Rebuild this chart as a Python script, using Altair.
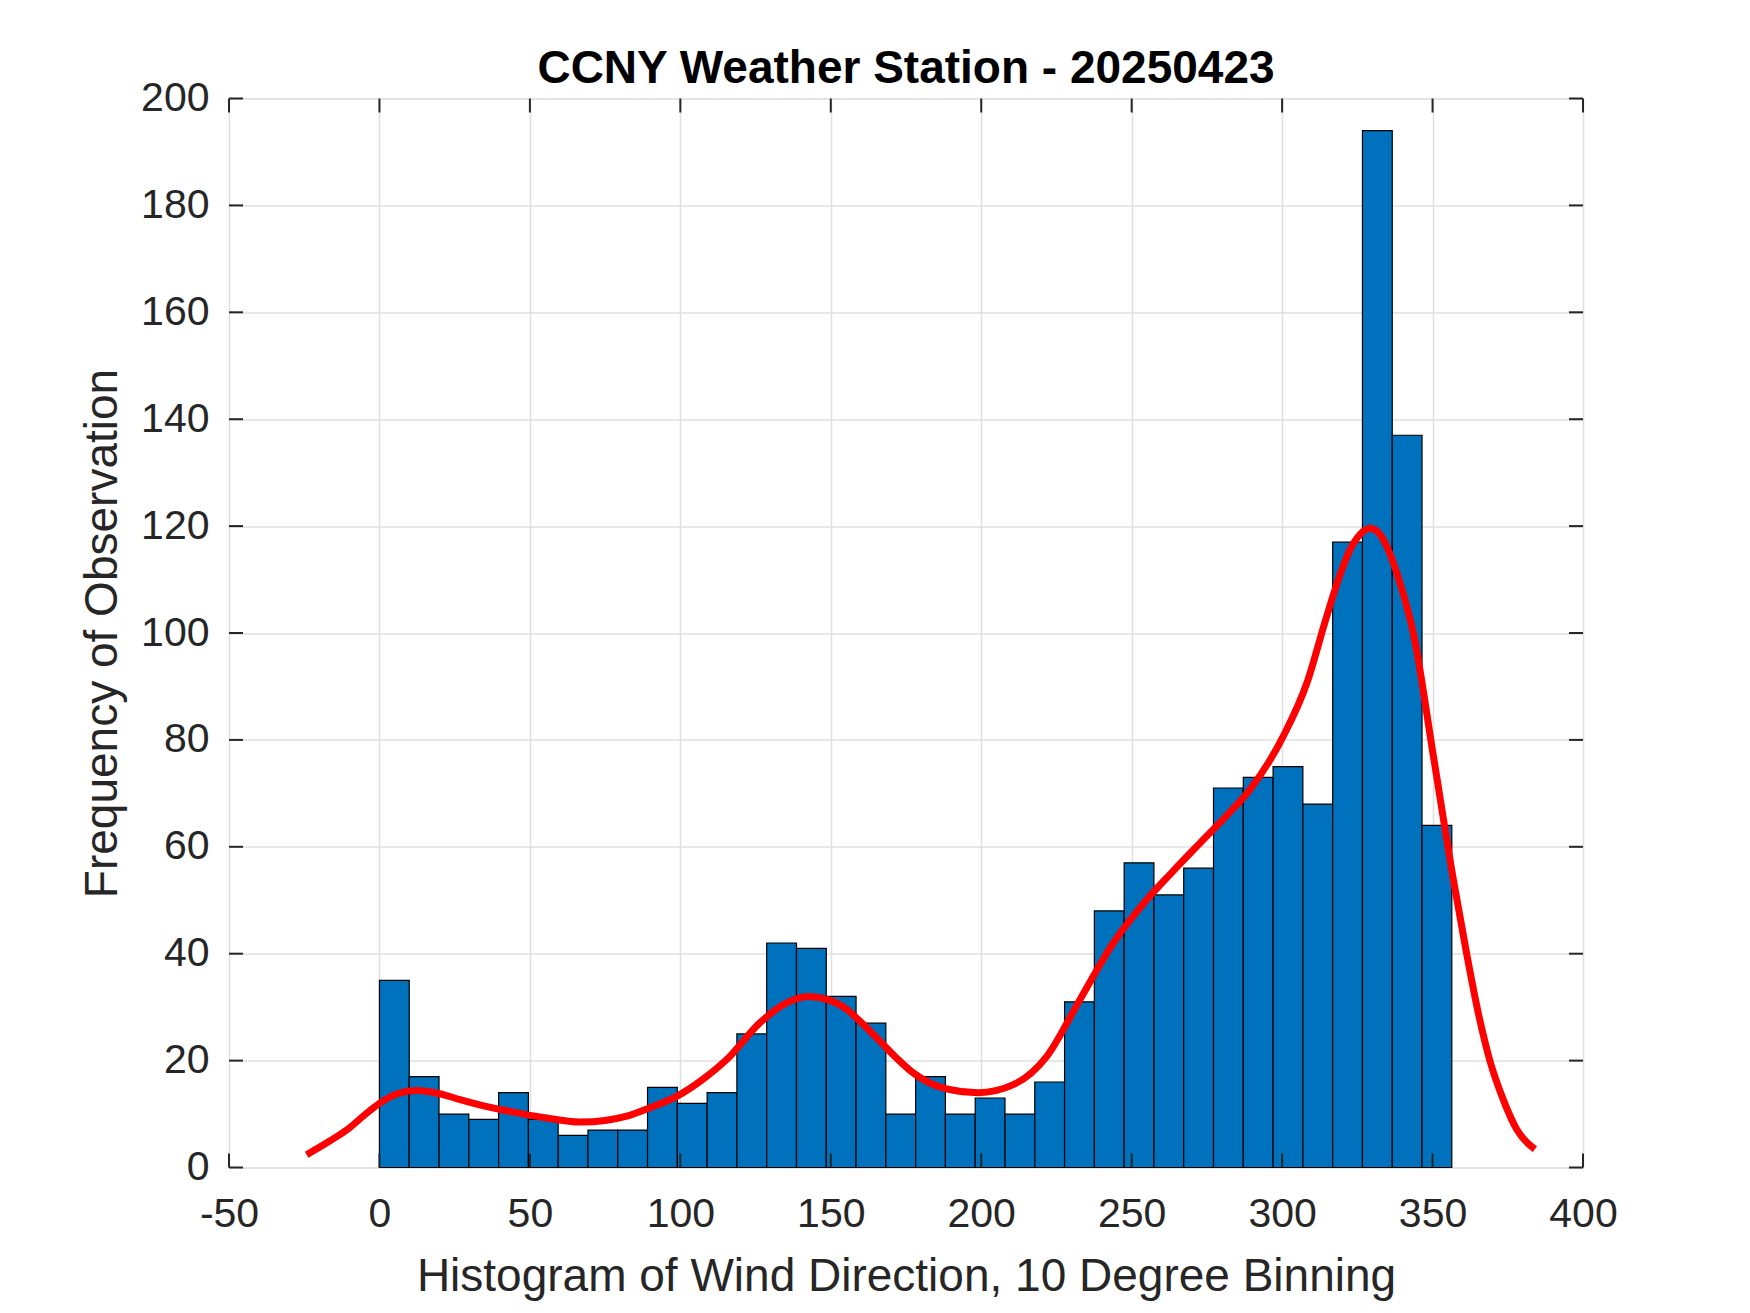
import altair as alt
import pandas as pd

# ---- data ----
bin_width = 9.9
counts = [35, 17, 10, 9, 14, 9, 6, 7, 7, 15, 12, 14, 25, 42, 41, 32, 27, 10,
          17, 10, 13, 10, 16, 31, 48, 57, 51, 56, 71, 73, 75, 68, 117, 194, 137, 64]

curve_x = [-24.2, -16.4, -10, -5, 0, 6, 12.4, 20, 26.8, 35, 43.4, 55, 66.7, 75,
           82.2, 90, 98.8, 107, 115.4, 126.5, 135, 142.3, 149, 155.3, 160, 166.4,
           172, 177.4, 188.5, 199, 210.7, 221.8, 232.8, 243.9, 255, 263, 272.7,
           281, 289.3, 300.4, 308.2, 314.8, 319, 322.6, 326, 329.2, 332, 334.8,
           339.2, 343.6, 350.3, 356.9, 361.3, 365.2, 369.1, 373.5, 378, 384]
curve_y = [2.4, 5.0, 7.4, 9.8, 12.0, 13.8, 14.4, 13.8, 12.7, 11.5, 10.5, 9.3, 8.5,
           8.8, 9.6, 11.2, 13.3, 16.3, 20.2, 27.1, 30.7, 32.0, 31.4, 29.6, 27.2,
           23.6, 20.4, 17.7, 14.7, 14.0, 15.5, 20.8, 31.4, 42.0, 50.1, 55.0, 60.7,
           65.5, 70.7, 80.7, 90.6, 103.1, 110.5, 115.6, 118.5, 119.6, 118.8,
           116.2, 109.3, 100.0, 76.9, 53.9, 40.1, 28.9, 19.9, 12.7, 7.1, 3.4]

x_ticks = [-50, 0, 50, 100, 150, 200, 250, 300, 350, 400]
y_ticks = [0, 20, 40, 60, 80, 100, 120, 140, 160, 180, 200]

title_text = "CCNY Weather Station - 20250423"
x_title = "Histogram of Wind Direction, 10 Degree Binning"
y_title = "Frequency of Observation"

# ---- tables ----
bars = pd.DataFrame({
    "x0": [i * bin_width for i in range(len(counts))],
    "x1": [(i + 1) * bin_width for i in range(len(counts))],
    "count": counts,
})
curve = pd.DataFrame({"x": curve_x, "y": curve_y})
xt = pd.DataFrame({"v": x_ticks})
yt = pd.DataFrame({"v": y_ticks})

W, H = 1354, 1069
FONT = "Liberation Sans"
AX = "#262626"
TL = 14

xscale = alt.Scale(domain=[-50, 400], nice=False, zero=False)
yscale = alt.Scale(domain=[0, 200], nice=False)

xaxis = alt.Axis(values=x_ticks, title=x_title, grid=True, gridColor="#dfdfdf",
                 gridWidth=1.5, ticks=False, tickSize=0, domain=False,
                 labelFont=FONT, labelFontSize=41, labelColor=AX,
                 labelPadding=27, labelExpr="'' + datum.value",
                 titleFont=FONT, titleFontSize=46, titleFontWeight="normal",
                 titleColor=AX, titleBaseline="alphabetic", titleY=123,
                 labelFlush=False)
yaxis = alt.Axis(values=y_ticks, title=y_title, grid=True, gridColor="#dfdfdf",
                 gridWidth=1.5, ticks=False, tickSize=0, domain=False,
                 labelFont=FONT, labelFontSize=41, labelColor=AX,
                 labelPadding=20, labelExpr="'' + datum.value",
                 titleFont=FONT, titleFontSize=46, titleFontWeight="normal",
                 titleColor=AX, titleBaseline="alphabetic", titleAngle=270,
                 titleX=-113, titleY=H / 2, titleAlign="center",
                 labelFlush=False)

hist = alt.Chart(bars).mark_rect(color="#0072BD", stroke="#000000", strokeWidth=1.2).encode(
    x=alt.X("x0:Q", scale=xscale, axis=xaxis),
    x2="x1:Q",
    y=alt.Y("count:Q", scale=yscale, axis=yaxis),
    y2=alt.datum(0),
)

line = alt.Chart(curve).mark_line(color="#FF0000", strokeWidth=7,
                                  interpolate="monotone", strokeCap="butt").encode(
    x=alt.X("x:Q", scale=xscale),
    y=alt.Y("y:Q", scale=yscale),
)

tick_style = dict(color=AX, strokeWidth=2)
bottom_ticks = alt.Chart(xt).mark_rule(**tick_style).encode(
    x=alt.X("v:Q", scale=xscale), y=alt.value(H), y2=alt.value(H - TL))
top_ticks = alt.Chart(xt).mark_rule(**tick_style).encode(
    x=alt.X("v:Q", scale=xscale), y=alt.value(0), y2=alt.value(TL))
left_ticks = alt.Chart(yt).mark_rule(**tick_style).encode(
    y=alt.Y("v:Q", scale=yscale), x=alt.value(0), x2=alt.value(TL))
right_ticks = alt.Chart(yt).mark_rule(**tick_style).encode(
    y=alt.Y("v:Q", scale=yscale), x=alt.value(W), x2=alt.value(W - TL))

chart = alt.layer(hist, line, bottom_ticks, top_ticks, left_ticks, right_ticks).properties(
    width=W, height=H,
    title=alt.TitleParams(text=title_text, font=FONT, fontSize=46, fontWeight="bold",
                          color="#000000", anchor="middle", frame="group",
                          baseline="alphabetic", offset=14, dy=65),
    autosize=alt.AutoSizeParams(type="none"),
    padding={"left": 221, "top": 90.5, "right": 120, "bottom": 136},
).configure_view(stroke=AX, strokeWidth=2).configure(background="white")

chart.save("out.html", embed_options={"renderer": "svg", "actions": False})
